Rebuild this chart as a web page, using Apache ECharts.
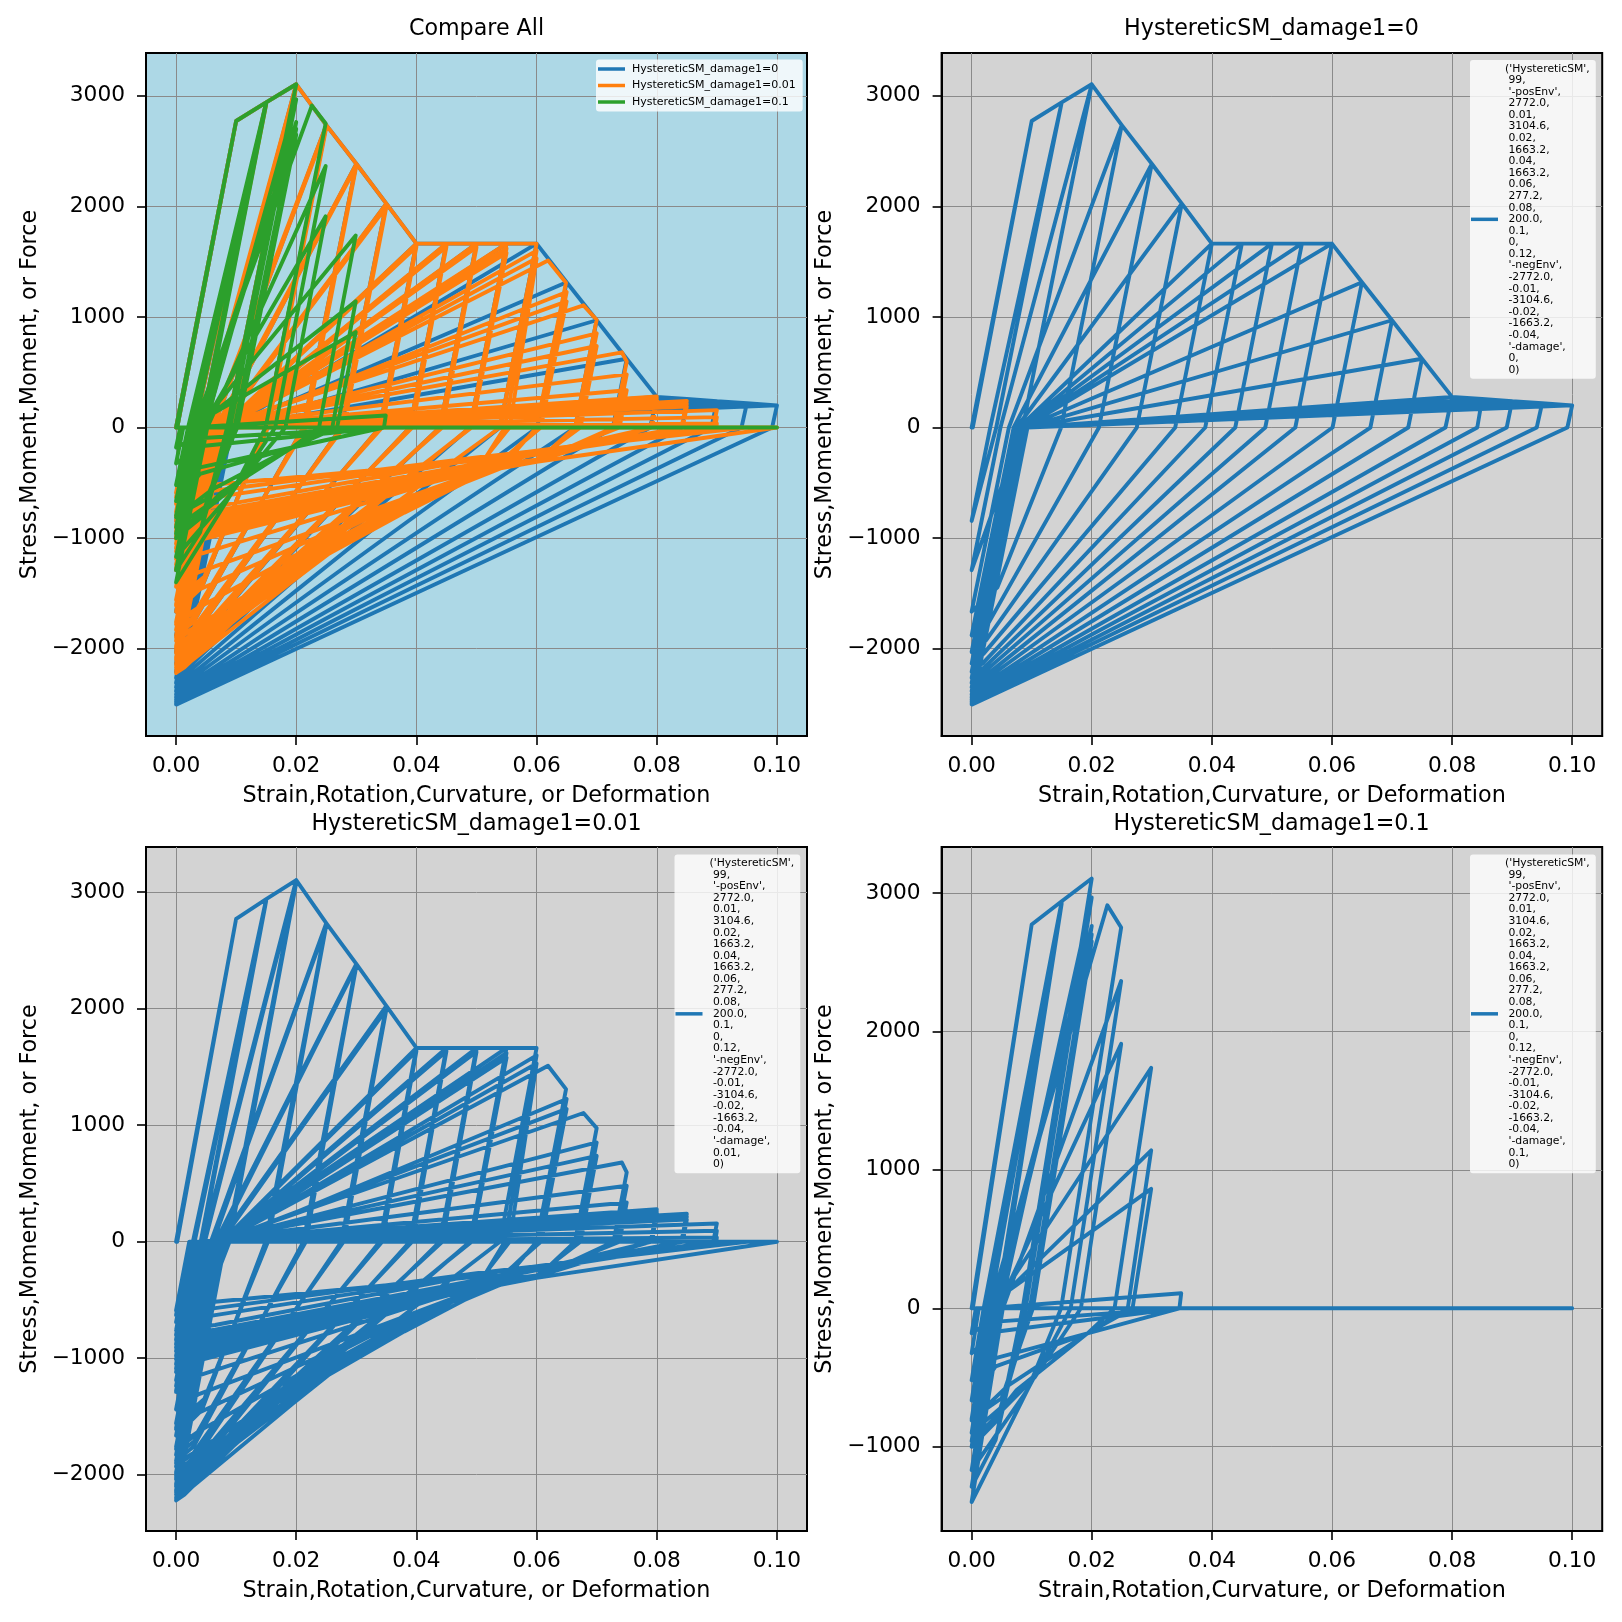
<!DOCTYPE html>
<html><head><meta charset="utf-8">
<style>html,body{margin:0;padding:0;background:#fff}#c{width:1622px;height:1622px}</style>
<script src="https://cdn.jsdelivr.net/npm/echarts@6/dist/echarts.min.js"></script>
</head><body><div id="c"></div>
<script>
const xTicks=[0,0.02,0.04,0.06,0.08,0.10];
const yTicksWide=[-2000,-1000,0,1000,2000,3000];
const yTicksNarrow=[-1000,0,1000,2000,3000];
const xAxisTitle='Strain,Rotation,Curvature, or Deformation';
const yAxisTitle='Stress,Moment,Moment, or Force';
const titles=['Compare All','HystereticSM_damage1=0','HystereticSM_damage1=0.01','HystereticSM_damage1=0.1'];
const seriesNames=['HystereticSM_damage1=0','HystereticSM_damage1=0.01','HystereticSM_damage1=0.1'];
const colors=['#1f77b4','#ff7f0e','#2ca02c'];

const damage0=[
[0,0],[.01,2772],[.0002,0],[.01,2772],[.015,2940],[.0041,0],[0,-845],[.0031,0],
[.015,2940],[.02,3104],[.0085,0],[0,-1290],[.0048,0],
[.02,3104],[.025,2735],[.0149,0],[.0043,-1445],[0,-1665],[.0062,0],
[.025,2735],[.03,2385],[.0212,0],[.0029,-1760],[0,-1880],[.007,0],
[.03,2385],[.035,2025],[.0275,0],[.0024,-1925],[0,-2030],[.0075,0],
[.035,2025],[.04,1663],[.0339,0],[.002,-2045],[0,-2135],[.0079,0],
[.04,1663],[.045,1663],[.0389,0],[.0018,-2135],[0,-2210],[.0082,0],
[.045,1663],[.05,1663],[.0439,0],[.0017,-2190],[0,-2265],[.0084,0],
[.05,1663],[.055,1663],[.0489,0],[.0016,-2235],[0,-2310],[.0086,0],
[.055,1663],[.06,1663],[.0539,0],[.0015,-2280],[0,-2350],[.0087,0],
[.06,1663],[.065,1314],[.0601,0],[.0013,-2320],[0,-2385],[.0088,0],
[.065,1314],[.07,970],[.0664,0],[.0012,-2355],[0,-2415],[.0089,0],
[.07,970],[.075,622],[.0727,0],[.001,-2385],[0,-2440],[.009,0],
[.075,622],[.08,277],[.0789,0],[.0009,-2410],[0,-2460],[.0091,0],
[.08,277],[.085,258],[.0842,0],[.0007,-2435],[0,-2480],[.0092,0],
[.085,258],[.09,238],[.0891,0],[.0005,-2460],[0,-2495],[.0092,0],
[.09,238],[.095,219],[.0941,0],[.0003,-2480],[0,-2505],[.0093,0],
[.095,219],[.1,200],[.0992,0],[.0001,-2505],[0,-2515],[.0093,0],[.1,200]
];

const damage001=[
[0,0],[.01,2772],[.0002,0],[.01,2772],
[.015,2940],[.0041,0],[0,-845],[.0031,0],
[.015,2935],[.0042,0],[0,-800],[.003,0],
[.015,2925],[.0043,0],[0,-760],[.0028,0],
[.015,2940],[.02,3104],[.0085,0],[0,-1290],[.0048,0],
[.02,3095],[.0087,0],[0,-1240],[.0046,0],
[.02,3080],[.0089,0],[0,-1190],[.0044,0],
[.02,3104],[.025,2735],[.0149,0],[.0043,-1445],[0,-1665],[.0062,0],
[.025,2725],[.0151,0],[.0045,-1400],[0,-1610],[.006,0],
[.025,2715],[.0153,0],[.0047,-1350],[0,-1560],[.0058,0],
[.025,2735],[.03,2385],[.0212,0],[.0029,-1760],[0,-1880],[.007,0],
[.03,2375],[.0214,0],[.0031,-1710],[0,-1830],[.0068,0],
[.03,2365],[.0216,0],[.0033,-1660],[0,-1780],[.0066,0],
[.03,2385],[.035,2025],[.0275,0],[.0024,-1925],[0,-2030],[.0075,0],
[.035,2010],[.0277,0],[.0026,-1870],[0,-1980],[.0073,0],
[.035,1995],[.0279,0],[.0028,-1820],[0,-1930],[.0071,0],
[.035,2025],[.04,1663],[.0339,0],[.002,-2040],[0,-2135],[.0079,0],
[.04,1650],[.0341,0],[.0022,-1990],[0,-2090],[.0077,0],
[.04,1635],[.0343,0],[.0024,-1940],[0,-2040],[.0076,0],
[.04,1663],[.045,1663],[.0389,0],[.0018,-2120],[0,-2200],[.0081,0],
[.045,1650],[.0391,0],[.002,-2070],[0,-2150],[.008,0],
[.045,1635],[.0393,0],[.0022,-2020],[0,-2100],[.0078,0],
[.045,1663],[.05,1663],[.0439,0],[.0014,-2170],[0,-2220],[.0082,0],
[.05,1650],[.0441,0],[.0018,-2100],[0,-2170],[.008,0],
[.05,1630],[.0443,0],[.0022,-2000],[0,-2080],[.0077,0],
[.05,1663],[.055,1663],[.0489,0],[.0018,-2100],[0,-2170],[.008,0],
[.055,1620],[.049,0],[.0022,-2000],[0,-2080],[.0077,0],
[.055,1580],[.0492,0],[.0026,-1930],[0,-2010],[.0074,0],
[.055,1663],[.06,1663],[.0539,0],[.0037,-1980],[0,-2100],[.0078,0],
[.06,1600],[.0547,0],[.05,-400],[.038,-745],[.0255,-1110],[.0037,-1900],[0,-2040],[.0076,0],
[.06,1530],[.0555,0],[.05,-370],[.038,-715],[.0255,-1075],[.0037,-1850],[0,-1990],[.0074,0],
[.0619,1510],[.0649,1310],[.06,0],[.054,-370],[.048,-500],[.038,-770],[.0255,-1140],[.0194,-1390],[0,-2220],[.0082,0],
[.065,1225],[.0604,0],[.053,-360],[.038,-690],[.0255,-1040],[.0037,-1790],[0,-1900],[.007,0],
[.065,1140],[.0607,0],[.053,-350],[.038,-660],[.0255,-990],[.0037,-1630],[0,-1760],[.0066,0],
[.0678,1105],[.07,975],[.0664,0],[.06,-310],[.054,-370],[.038,-640],[.0037,-1470],[0,-1600],[.0062,0],
[.07,852],[.0668,0],[.06,-300],[.053,-350],[.0037,-1310],[0,-1440],[.0054,0],
[.07,737],[.0673,0],[.06,-290],[.052,-340],[.0037,-1150],[0,-1280],[.0047,0],
[.0742,680],[.075,595],[.0728,0],[.06,-310],[.052,-370],[.0037,-1020],[0,-1120],[.0042,0],
[.075,480],[.0732,0],[.06,-300],[.052,-370],[.0037,-990],[0,-1090],[.004,0],
[.075,337],[.0738,0],[.06,-290],[.052,-360],[.0037,-960],[0,-1050],[.0039,0],
[.08,280],[.079,0],[.06,-300],[.052,-350],[.0045,-930],[0,-1010],[.0038,0],
[.08,265],[.0791,0],[.06,-290],[.052,-340],[.0045,-900],[0,-980],[.0036,0],
[.08,250],[.0792,0],[.055,-300],[.005,-870],[0,-940],[.0035,0],
[.085,240],[.0841,0],[.055,-295],[.005,-840],[0,-910],[.0034,0],
[.085,215],[.0842,0],[.055,-290],[.0055,-810],[0,-880],[.0033,0],
[.085,190],[.0843,0],[.055,-285],[.0055,-780],[0,-840],[.0031,0],
[.09,157],[.0894,0],[.055,-280],[.0065,-755],[0,-800],[.003,0],
[.09,94],[.0897,0],[.05,-285],[.0065,-715],[0,-760],[.0028,0],
[.09,37],[.0899,0],[.05,-280],[.0065,-630],[0,-690],[.0026,0],
[.095,0],[.05,-270],[.0065,-570],[0,-630],[.0023,0],
[.1,0],[.06,-310],[.052,-290],[.0065,-515],[0,-590],[.0022,0],[.1,0]
];

const damage01=[
[0,0],[.01,2772],[.0002,0],[.01,2772],[.015,2940],[.0041,0],[0,-810],[.003,0],
[.015,2935],[.0043,0],[0,-665],[.0025,0],
[.015,2925],[.0045,0],[0,-520],[.002,0],
[.015,2940],[.02,3104],[.0085,0],[.004,-950],[0,-1290],[.0048,0],
[.02,2967],[.009,0],[.0043,-900],[0,-1170],[.0043,0],
[.02,2762],[.0097,0],[.0045,-800],[0,-1000],[.0037,0],
[.02,2700],[.01,0],[.0048,-720],[0,-900],[.0033,0],
[.02,2650],[.0102,0],[.005,-650],[0,-800],[.003,0],
[.0226,2911],[.0249,2750],[.0149,0],[.0093,-590],[.0046,-1000],[0,-1400],[.0052,0],
[.0249,2364],[.0165,0],[.0093,-590],[0,-1170],[.0043,0],
[.0249,1910],[.0182,0],[.0105,-500],[0,-960],[.0036,0],
[.0299,1737],[.0238,0],[.0193,-181],[.0075,-590],[0,-1000],[.0037,30],
[.0299,1141],[.026,0],[.0193,-181],[.006,-560],[0,-810],[.003,30],
[.0299,863],[.0268,0],[.0193,-181],[.004,-420],[0,-665],[.0025,0],
[.0349,108],[.0346,0],[.0193,-181],[.004,-360],[0,-520],[.002,0],
[.1,0],[.0346,0],[.004,-170],[0,-325],[.0012,0],[.1,0],[.0346,0],[.003,-100],[0,-180],[.0007,0],[.1,0]
];

const longNameLines=["('HystereticSM',"," 99,"," '-posEnv',"," 2772.0,"," 0.01,"," 3104.6,"," 0.02,"," 1663.2,"," 0.04,"," 1663.2,"," 0.06,"," 277.2,"," 0.08,"," 200.0,"," 0.1,"," 0,"," 0.12,"," '-negEnv',"," -2772.0,"," -0.01,"," -3104.6,"," -0.02,"," -1663.2,"," -0.04,"," '-damage',"];
const damageValues=['0','0.01','0.1'];
const longName=i=>longNameLines.concat(' '+damageValues[i]+',',' 0)').join('\n');

const FONT='"DejaVu Sans"';
const panels=[
 {l:146,t:53,w:661,h:683,min:-2790,max:3387,yt:yTicksWide,bg:'#add8e6',title:titles[0],tx:476.5,ty:18},
 {l:941.6,t:53,w:660.6,h:683,min:-2790,max:3387,yt:yTicksWide,bg:'#d3d3d3',title:titles[1],tx:1271.5,ty:18},
 {l:146,t:847,w:661,h:684,min:-2483,max:3388,yt:yTicksWide,bg:'#d3d3d3',title:titles[2],tx:476.5,ty:813},
 {l:941.6,t:847,w:660.6,h:684,min:-1609,max:3332,yt:yTicksNarrow,bg:'#d3d3d3',title:titles[3],tx:1271.5,ty:813}
];
const grid=[],xAxis=[],yAxis=[],title=[],series=[],legend=[];
panels.forEach((p,i)=>{
 grid.push({left:p.l,top:p.t,width:p.w,height:p.h,show:true,backgroundColor:p.bg,borderColor:'#000',borderWidth:2,containLabel:false});
 title.push({text:p.title,left:p.tx,top:p.ty,textAlign:'center',padding:0,textStyle:{fontFamily:FONT,fontSize:22.2,fontWeight:'normal',color:'#000'}});
 const common={splitLine:{show:true,lineStyle:{color:'#8a8a8a',width:1}},axisLine:{show:true,onZero:false,lineStyle:{color:'#000',width:2}}};
 xAxis.push(Object.assign({gridIndex:i,type:'value',min:-0.005,max:0.105,
  axisTick:{show:true,length:9,lineStyle:{color:'#000',width:1.6},customValues:xTicks},
  axisLabel:{show:true,margin:19,customValues:xTicks,fontFamily:FONT,fontSize:21.7,color:'#000',formatter:v=>Number(v).toFixed(2),showMinLabel:true,showMaxLabel:true},
  name:xAxisTitle,nameLocation:'middle',nameGap:49,nameTextStyle:{fontFamily:FONT,fontSize:22.3,color:'#000'}},common));
 yAxis.push(Object.assign({gridIndex:i,type:'value',min:p.min,max:p.max,
  axisTick:{show:true,length:9,lineStyle:{color:'#000',width:1.6},customValues:p.yt},
  axisLabel:{show:true,margin:21,customValues:p.yt,fontFamily:FONT,fontSize:21.7,color:'#000',padding:[2,0,0,0],formatter:v=>String(Math.round(v)).replace('-','\u2212')},
  name:yAxisTitle,nameLocation:'middle',nameGap:105,nameTextStyle:{fontFamily:FONT,fontSize:22.3,color:'#000'}},common));
});
const mk=(name,data,idx,color)=>({name,type:'line',xAxisIndex:idx,yAxisIndex:idx,data,showSymbol:false,symbol:'none',animation:false,silent:true,smooth:false,
 color,itemStyle:{color},lineStyle:{color,width:3.9,join:'round',cap:'round'},clip:true});
const all=[damage0,damage001,damage01];
all.forEach((d,i)=>series.push(mk(seriesNames[i],d,0,colors[i])));
all.forEach((d,i)=>series.push(mk(longName(i),d,i+1,colors[0])));
legend.push({show:true,orient:'vertical',left:596,top:59.5,padding:[3,7,3,2],itemGap:3.5,itemWidth:27,itemHeight:3.5,icon:'rect',selectedMode:false,
 data:seriesNames,backgroundColor:'rgba(255,255,255,0.8)',borderRadius:3,textStyle:{fontFamily:FONT,fontSize:11,lineHeight:13,color:'#000',padding:[0,0,0,2]}});
[[1470,60],[674.5,854.5],[1470,854.5]].forEach((pos,i)=>legend.push({show:true,orient:'vertical',left:pos[0],top:pos[1],padding:[3,6,3,1],itemWidth:27,itemHeight:3.5,icon:'rect',selectedMode:false,
 data:[longName(i)],backgroundColor:'rgba(255,255,255,0.8)',borderRadius:3,textStyle:{fontFamily:FONT,fontSize:10.8,lineHeight:11.58,color:'#000',padding:[0,0,0,2]}}));
const chart=echarts.init(document.getElementById('c'),null,{renderer:'canvas'});
chart.setOption({animation:false,backgroundColor:'#fff',tooltip:{show:false},grid,xAxis,yAxis,title,legend,series});
</script></body></html>
